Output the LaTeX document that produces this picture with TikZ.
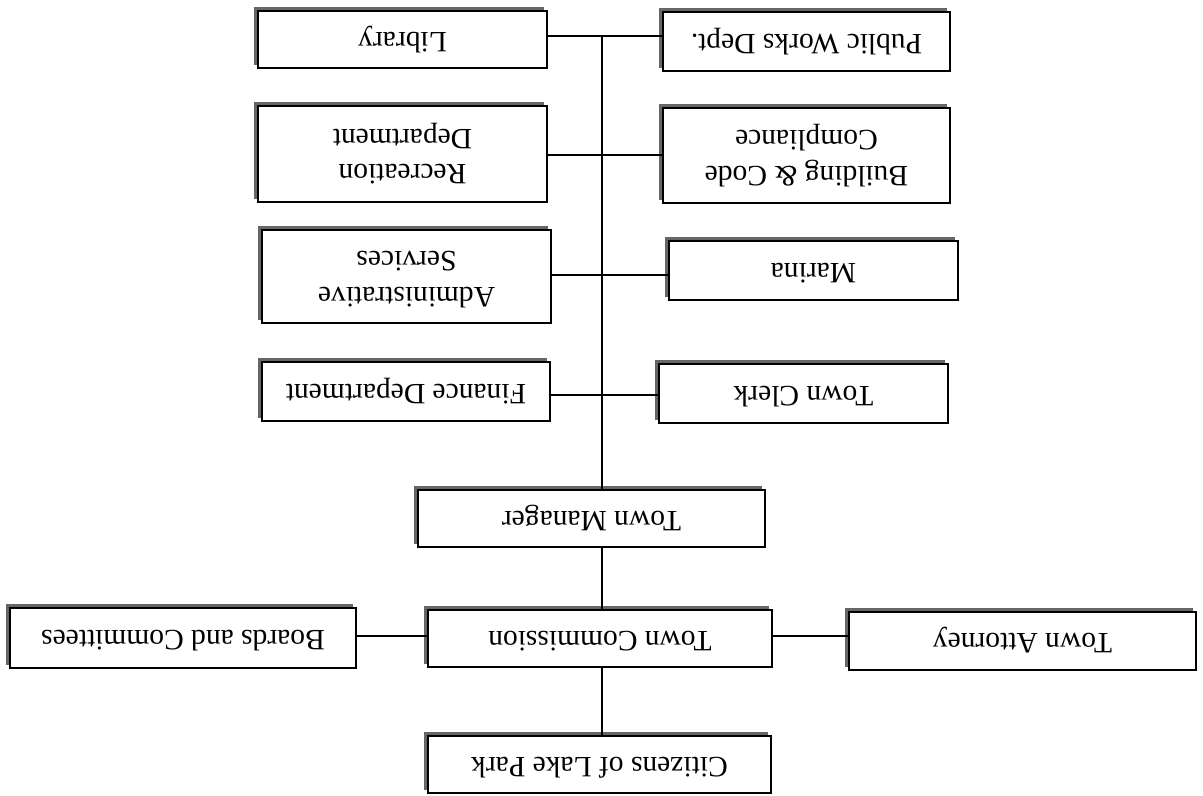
\documentclass[tikz,border=0pt]{standalone}
\usepackage{fontspec}
\setmainfont{Liberation Serif}
\usepackage{graphicx}
\usetikzlibrary{backgrounds}
\newcommand{\ud}[1]{\rotatebox[origin=c]{180}{\begin{tabular}{@{}c@{}}#1\end{tabular}}}
\tikzset{
  orgbox/.style={draw=black, line width=0.9pt, fill=white, inner sep=0pt,
    font=\fontsize{16.8}{20}\selectfont},
  shadowfill/.style={fill=black!60},
  link/.style={draw=black, line width=0.85pt}
}
\begin{document}
\begin{tikzpicture}[x=0.02cm, y=-0.02cm]
\useasboundingbox (0,0) rectangle (1203,795);
% boxes
\node[orgbox, minimum width=289*0.02cm, minimum height=57*0.02cm] (lib) at (402.5,39.5) {\ud{Library}};
\node[orgbox, minimum width=287*0.02cm, minimum height=59*0.02cm] (pw)  at (806.5,41.5) {\ud{Public Works Dept.}};
\node[orgbox, minimum width=289*0.02cm, minimum height=96*0.02cm] (rec) at (402.5,154) {\ud{Recreation\\Department}};
\node[orgbox, minimum width=287*0.02cm, minimum height=95*0.02cm] (bld) at (806.5,155.5) {\ud{Building \& Code\\Compliance}};
\node[orgbox, minimum width=289*0.02cm, minimum height=93*0.02cm] (adm) at (406.5,276.5) {\ud{Administrative\\Services}};
\node[orgbox, minimum width=289*0.02cm, minimum height=59*0.02cm] (mar) at (813.5,270.5) {\ud{Marina}};
\node[orgbox, minimum width=288*0.02cm, minimum height=59*0.02cm] (fin) at (406,391.5) {\ud{Finance Department}};
\node[orgbox, minimum width=289*0.02cm, minimum height=59*0.02cm] (clk) at (803.5,393.5) {\ud{Town Clerk}};
\node[orgbox, minimum width=347*0.02cm, minimum height=57*0.02cm] (mgr) at (591.5,518.5) {\ud{Town Manager}};
\node[orgbox, minimum width=344*0.02cm, minimum height=57*0.02cm] (cmn) at (600,638.5) {\ud{Town Commission}};
\node[orgbox, minimum width=346*0.02cm, minimum height=60*0.02cm] (brd) at (183,638) {\ud{Boards and Committees}};
\node[orgbox, minimum width=347*0.02cm, minimum height=58*0.02cm] (att) at (1022.5,641) {\ud{Town Attorney}};
\node[orgbox, minimum width=343*0.02cm, minimum height=57*0.02cm] (cit) at (599.5,764.5) {\ud{Citizens of Lake Park}};
% shadows (appear at top-left because the chart is upside down)
\begin{scope}[on background layer]
\foreach \n in {lib,pw,rec,bld,adm,mar,fin,clk,mgr,cmn,brd,att,cit}
  \fill[shadowfill] ([shift={(-3.5,-3.5)}]\n.north west) rectangle ([shift={(-3.5,-3.5)}]\n.south east);
\end{scope}
% junctions on the trunk
\coordinate (j1) at (602,36);
\coordinate (j2) at (602,155);
\coordinate (j3) at (602,275);
\coordinate (j4) at (602,395);
\coordinate (j5) at (602,636);
% connectors
\draw[link] (lib.east |- j1) -- (pw.west |- j1);
\draw[link] (rec.east |- j2) -- (bld.west |- j2);
\draw[link] (adm.east |- j3) -- (mar.west |- j3);
\draw[link] (fin.east |- j4) -- (clk.west |- j4);
\draw[link] (j1) -- (j1 |- mgr.north);
\draw[link] (mgr.south -| j1) -- (cmn.north -| j1);
\draw[link] (cmn.south -| j1) -- (cit.north -| j1);
\draw[link] (brd.east |- j5) -- (cmn.west |- j5);
\draw[link] (cmn.east |- j5) -- (att.west |- j5);
\end{tikzpicture}
\end{document}
